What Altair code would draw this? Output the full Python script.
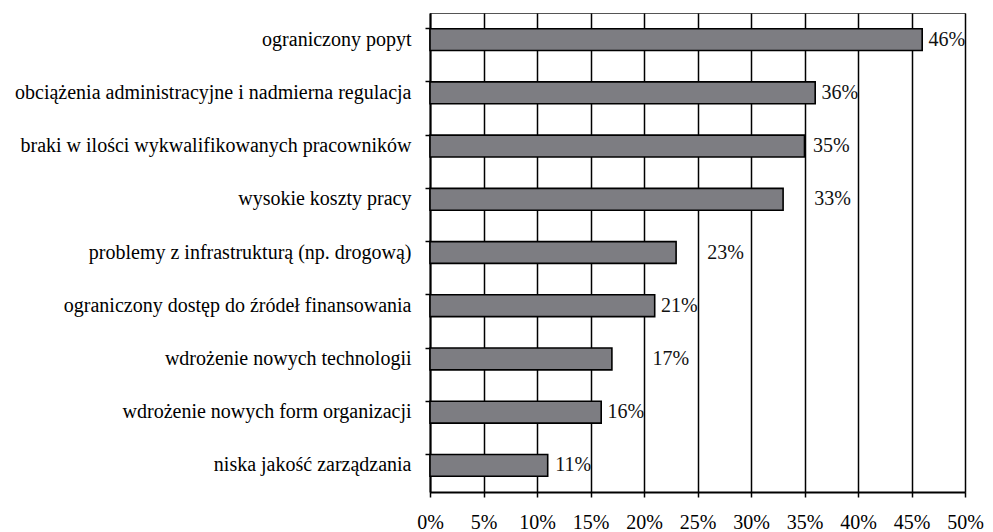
import altair as alt
import pandas as pd

categories = [
    "ograniczony popyt",
    "obciążenia administracyjne i nadmierna regulacja",
    "braki w ilości wykwalifikowanych pracowników",
    "wysokie koszty pracy",
    "problemy z infrastrukturą (np. drogową)",
    "ograniczony dostęp do źródeł finansowania",
    "wdrożenie nowych technologii",
    "wdrożenie nowych form organizacji",
    "niska jakość zarządzania",
]
values = [46, 36, 35, 33, 23, 21, 17, 16, 11]
# where each value label starts, in % units
label_at = [46.6, 36.6, 35.8, 35.9, 25.9, 21.6, 20.8, 16.6, 11.7]

df = pd.DataFrame({
    "kat": categories,
    "v": [v / 100 for v in values],
    "lab": [p / 100 for p in label_at],
    "txt": [f"{v}%" for v in values],
})

FONT = "Times New Roman, Liberation Serif, serif"
FS = 20

y_enc = alt.Y(
    "kat:N", sort=None, title=None,
    scale=alt.Scale(paddingInner=0.59, paddingOuter=0.295),
    axis=alt.Axis(
        labelFont=FONT, labelFontSize=FS, labelColor="black",
        labelPadding=14, tickSize=5, tickColor="black", tickWidth=1.5,
        bandPosition=0, labelOffset=0,
        domainColor="black", domainWidth=2, labelLimit=0,
    ),
)
x_enc = alt.X(
    "v:Q", title=None,
    scale=alt.Scale(domain=[0, 0.5], nice=False),
    axis=alt.Axis(
        format=".0%", values=[i / 100 for i in range(0, 51, 5)],
        labelFont=FONT, labelFontSize=FS, labelColor="black",
        labelPadding=15, tickSize=5, tickColor="black", tickWidth=1.5,
        domainColor="black", domainWidth=2,
        grid=True, gridColor="black", gridWidth=1.5, labelFlush=False,
    ),
)

bars = alt.Chart(df).mark_bar(
    fill="#7d7d82", stroke="black", strokeWidth=1.6
).encode(x=x_enc, y=y_enc)

texts = alt.Chart(df).mark_text(
    align="left", baseline="middle", font=FONT, fontSize=FS, color="#111"
).encode(x=alt.X("lab:Q"), y=alt.Y("kat:N", sort=None), text="txt:N")

chart = (bars + texts).properties(
    width=535, height=479,
    autosize=alt.AutoSizeParams(type="none"),
    padding={"left": 422, "top": 5, "right": 20, "bottom": 40},
).configure_view(stroke="#555", strokeWidth=1)

chart.save("out.html", embed_options={"renderer": "svg", "actions": False})
